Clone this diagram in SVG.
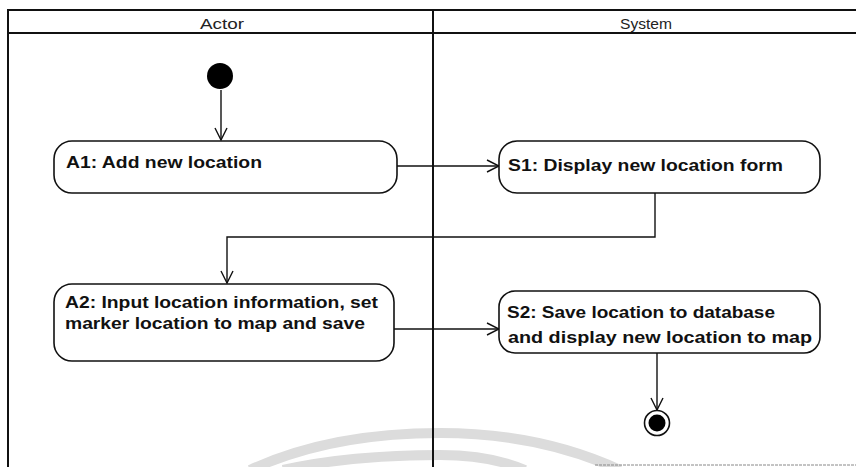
<svg xmlns="http://www.w3.org/2000/svg" width="856" height="467" viewBox="0 0 856 467">
<defs>
<style>
.frame{fill:none;stroke:#111;stroke-width:2}
.act{fill:#fff;stroke:#111;stroke-width:1.6}
.lbl{font-family:"Liberation Sans",Arial,sans-serif;font-weight:bold;font-size:16px;fill:#111}
.hdr{font-family:"Liberation Sans",Arial,sans-serif;font-size:15px;fill:#222}
.edge{fill:none;stroke:#111;stroke-width:1.4}
.wm{fill:none;stroke:#dcdcdc;stroke-width:10}
</style>
<marker id="open" viewBox="0 0 14 14" refX="13" refY="7" markerWidth="14" markerHeight="14" markerUnits="userSpaceOnUse" orient="auto">
<path d="M1,1 L13,7 L1,13" fill="none" stroke="#111" stroke-width="1.4"/>
</marker>
</defs>
<rect width="856" height="467" fill="#fff"/>
<g id="watermark">
<path class="wm" d="M250,470 Q330,433 440,433 Q540,433 620,470"/>
<path class="wm" d="M283,470 Q350,455 440,455 Q490,455 525,470"/>
</g>
<g id="swimlanes">
<path class="frame" d="M8,475 L8,10 L858,10"/>
<line class="frame" x1="8" y1="33" x2="858" y2="33"/>
<line class="frame" x1="433" y1="10" x2="433" y2="475" stroke-width="2.5"/>
<line x1="595" y1="465" x2="858" y2="465" stroke="#888" stroke-width="1" stroke-dasharray="3 1"/>
<text class="hdr" x="222" y="29" text-anchor="middle" textLength="44" lengthAdjust="spacingAndGlyphs">Actor</text>
<text class="hdr" x="646" y="29" text-anchor="middle" textLength="52" lengthAdjust="spacingAndGlyphs">System</text>
</g>
<g id="connectors">
<line class="edge" x1="221" y1="90" x2="221" y2="140" marker-end="url(#open)"/>
<line class="edge" x1="397" y1="166" x2="499" y2="166" marker-end="url(#open)"/>
<path class="edge" d="M655,193 L655,237 L227,237 L227,283" marker-end="url(#open)"/>
<line class="edge" x1="394" y1="329" x2="499" y2="329" marker-end="url(#open)"/>
<line class="edge" x1="657" y1="353" x2="657" y2="410" marker-end="url(#open)"/>
</g>
<g id="start">
<circle cx="220" cy="76" r="13" fill="#000"/>
</g>
<g id="A1">
<rect class="act" x="54" y="141" width="343" height="52" rx="18" ry="18"/>
<text class="lbl" x="66" y="168" textLength="196" lengthAdjust="spacingAndGlyphs">A1: Add new location</text>
</g>
<g id="S1">
<rect class="act" x="499" y="141" width="321" height="52" rx="18" ry="18"/>
<text class="lbl" x="508" y="171" textLength="275" lengthAdjust="spacingAndGlyphs">S1: Display new location form</text>
</g>
<g id="A2">
<rect class="act" x="54" y="284" width="340" height="77" rx="18" ry="18"/>
<text class="lbl" x="65" y="308" textLength="313" lengthAdjust="spacingAndGlyphs">A2: Input location information, set</text>
<text class="lbl" x="65" y="329" textLength="300" lengthAdjust="spacingAndGlyphs">marker location to map and save</text>
</g>
<g id="S2">
<rect class="act" x="499" y="291" width="321" height="62" rx="16" ry="16"/>
<text class="lbl" x="507" y="318" textLength="268" lengthAdjust="spacingAndGlyphs">S2: Save location to database</text>
<text class="lbl" x="508" y="343" textLength="304" lengthAdjust="spacingAndGlyphs">and display new location to map</text>
</g>
<g id="end">
<circle cx="657" cy="423" r="12.5" fill="#fff" stroke="#111" stroke-width="1.6"/>
<circle cx="657" cy="423" r="8.5" fill="#000"/>
</g>
</svg>
